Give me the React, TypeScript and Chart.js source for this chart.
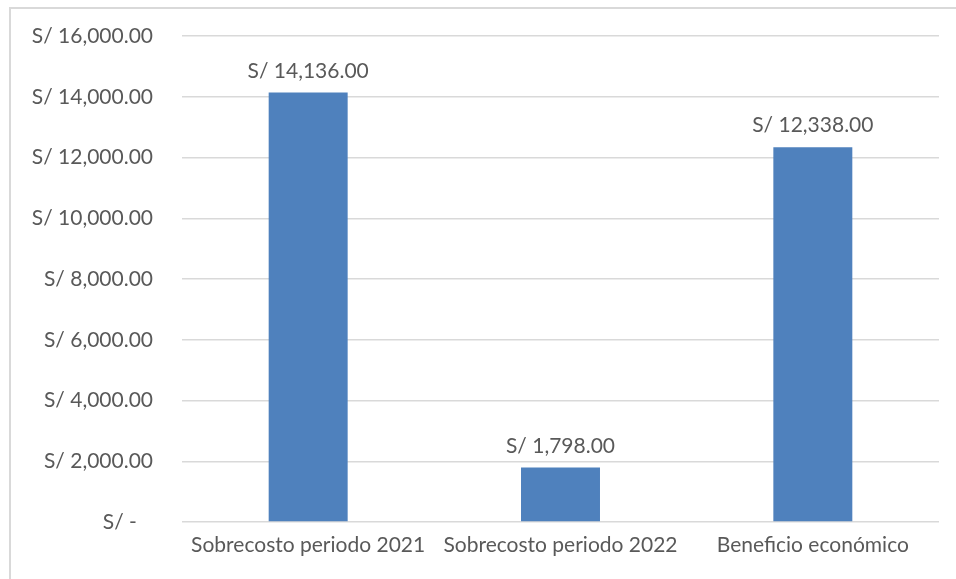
import React, { useEffect, useRef } from "react";
import { Chart, registerables } from "chart.js";

Chart.register(...registerables);

const categories = ["Sobrecosto periodo 2021", "Sobrecosto periodo 2022", "Beneficio económico"];
const values = [14136, 1798, 12338];
const yTicks = [0, 2000, 4000, 6000, 8000, 10000, 12000, 14000, 16000];

const FONT = "Lato";
const TEXT = "#595959";

function fmtNum(v: number): string {
  const fixed = v.toFixed(2);
  const [i, d] = fixed.split(".");
  const withCommas = i.replace(/\B(?=(\d{3})+(?!\d))/g, ",");
  return withCommas + "." + d;
}
function fmtLabel(v: number): string {
  if (v === 0) return "S/ -   ";
  return "S/ " + fmtNum(v);
}

const dataLabels = {
  id: "dataLabels",
  afterDatasetsDraw(chart: any) {
    const ctx = chart.ctx;
    const meta = chart.getDatasetMeta(0);
    ctx.save();
    ctx.font = `21px ${FONT}`;
    ctx.fillStyle = TEXT;
    ctx.textAlign = "center";
    ctx.textBaseline = "bottom";
    meta.data.forEach((el: any, i: number) => {
      ctx.fillText(fmtLabel(values[i]), el.x, el.y - 11);
    });
    ctx.restore();
  },
};

export default function App() {
  const ref = useRef<HTMLCanvasElement>(null);
  useEffect(() => {
    if (!ref.current) return;
    const chart = new Chart(ref.current, {
      type: "bar",
      data: {
        labels: categories,
        datasets: [
          {
            data: values,
            backgroundColor: "#4F81BD",
            categoryPercentage: 1,
            barPercentage: 0.313,
          },
        ],
      },
      options: {
        animation: false,
        responsive: false,
        maintainAspectRatio: false,
        layout: { padding: { left: 0, right: 17, top: 36, bottom: 0 } },
        plugins: { legend: { display: false }, tooltip: { enabled: false } },
        scales: {
          x: {
            grid: { display: false, drawTicks: false },
            border: { display: false },
            ticks: { color: TEXT, font: { family: FONT, size: 21 }, padding: 11, maxRotation: 0, autoSkip: false },
            afterFit(scale: any) {
              scale.height = 57;
              scale.paddingLeft = 0;
              scale.paddingRight = 0;
            },
          },
          y: {
            min: 0,
            max: 16000,
            afterBuildTicks(scale: any) {
              scale.ticks = yTicks.map((v) => ({ value: v }));
            },
            grid: { color: "#d9d9d9", lineWidth: 1.5, drawTicks: false },
            border: { display: false },
            ticks: {
              color: TEXT,
              font: { family: FONT, size: 21 },
              padding: 29,
              callback: (v: any) => fmtLabel(Number(v)),
            },
            afterFit(scale: any) {
              scale.width = 182;
              scale.paddingTop = 0;
              scale.paddingBottom = 0;
            },
          },
        },
      },
      plugins: [dataLabels],
    });
    return () => chart.destroy();
  }, []);
  return (
    <div style={{ position: "fixed", left: 0, top: 0, width: 956, height: 579, background: "#fff" }}>
      <canvas ref={ref} width={956} height={579} style={{ position: "absolute", left: 0, top: 0 }} />
      <div style={{ position: "absolute", left: 9, top: 7, width: 947, height: 572, borderTop: "2px solid #d9d9d9", borderLeft: "2px solid #d9d9d9", boxSizing: "border-box", pointerEvents: "none" }} />
    </div>
  );
}
